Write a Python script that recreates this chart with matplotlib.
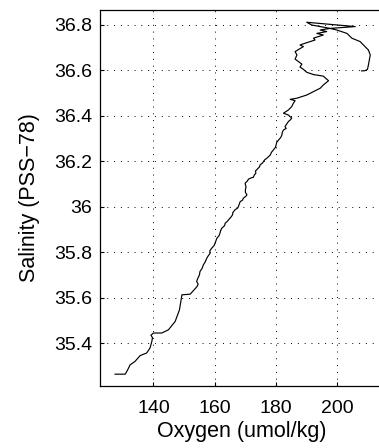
import matplotlib.pyplot as plt

# Perfil de oxígeno disuelto vs salinidad (de fondo a superficie)
oxygen = [127.5, 130.8, 131.5, 132.4, 134.0, 135.7, 137.8, 138.9, 139.5, 139.7,
          139.2, 140.0, 142.7, 144.9, 147.1, 148.5, 149.3, 152.0, 154.2, 154.6,
          154.1, 154.5, 155.0, 155.2, 155.9, 156.3, 156.9, 157.4, 157.9, 158.5,
          158.4, 159.0, 159.8, 160.1, 160.4, 160.7, 161.4, 161.7, 161.9, 162.3,
          163.2, 163.4, 164.1, 164.5, 165.3, 165.8, 165.9, 166.6, 167.5, 167.7,
          168.0, 168.3, 169.1, 169.3, 170.1, 170.5, 170.0, 170.0, 170.2, 170.0,
          169.9, 170.6, 171.0, 172.0, 172.6, 172.9, 173.4, 173.3, 173.9, 174.6,
          174.8, 175.6, 175.9, 176.3, 177.0, 177.6, 178.1, 178.5, 179.1, 179.8,
          180.0, 180.2, 180.8, 181.5, 181.9, 182.0, 182.4, 183.3, 182.9, 184.0,
          184.6, 185.1, 184.0, 182.4, 184.0, 185.1, 185.6, 186.2, 184.6, 186.8,
          190.0, 192.2, 194.4, 195.4, 197.1, 195.4, 192.2, 190.0, 188.9, 187.8,
          188.4, 186.2, 186.8, 186.2, 188.9, 187.8, 189.5, 192.7, 192.2, 195.4,
          193.3, 196.5, 194.4, 197.6, 191.6, 190.0, 205.8, 197.6, 199.8, 203.1,
          204.7, 207.4, 209.0, 210.1, 210.7, 210.4, 210.1, 209.8, 209.0, 207.9]
salinity = [35.264, 35.264, 35.280, 35.305, 35.320, 35.346, 35.357, 35.379, 35.408, 35.425,
            35.435, 35.445, 35.445, 35.459, 35.496, 35.547, 35.613, 35.616, 35.649, 35.660,
            35.672, 35.686, 35.700, 35.716, 35.730, 35.745, 35.758, 35.774, 35.785, 35.796,
            35.807, 35.818, 35.830, 35.840, 35.851, 35.862, 35.873, 35.884, 35.895, 35.906,
            35.917, 35.928, 35.936, 35.943, 35.955, 35.965, 35.975, 35.987, 35.995, 36.001,
            36.012, 36.023, 36.030, 36.038, 36.046, 36.053, 36.064, 36.075, 36.089, 36.097,
            36.104, 36.113, 36.122, 36.128, 36.130, 36.140, 36.148, 36.158, 36.166, 36.176,
            36.185, 36.193, 36.200, 36.207, 36.214, 36.222, 36.228, 36.240, 36.250, 36.262,
            36.272, 36.283, 36.294, 36.305, 36.316, 36.327, 36.338, 36.345, 36.353, 36.375,
            36.382, 36.390, 36.404, 36.412, 36.426, 36.441, 36.455, 36.467, 36.473, 36.478,
            36.492, 36.507, 36.522, 36.536, 36.555, 36.575, 36.582, 36.592, 36.605, 36.615,
            36.628, 36.650, 36.668, 36.683, 36.705, 36.712, 36.720, 36.734, 36.742, 36.756,
            36.763, 36.771, 36.778, 36.785, 36.800, 36.812, 36.793, 36.785, 36.778, 36.763,
            36.742, 36.727, 36.705, 36.690, 36.668, 36.646, 36.624, 36.605, 36.599, 36.598]

xticks = [140, 160, 180, 200]
yticks = [35.4, 35.6, 35.8, 36.0, 36.2, 36.4, 36.6, 36.8]
ylabels = ['35.4', '35.6', '35.8', '36', '36.2', '36.4', '36.6', '36.8']

plt.rcParams['font.family'] = ['Liberation Sans', 'DejaVu Sans']

fig = plt.figure(figsize=(3.79, 4.48), dpi=100)
ax = fig.add_axes([0.2639, 0.1384, 0.7478, 0.8393])

ax.plot(oxygen, salinity, color='black', linewidth=0.85)

ax.set_xlim(122.6, 215)
ax.set_ylim(35.212, 36.866)
ax.set_xticks(xticks)
ax.set_yticks(yticks)
ax.set_yticklabels(ylabels)
ax.tick_params(direction='in', length=3, labelsize=14, colors='black')
ax.tick_params(axis='x', pad=10)
ax.tick_params(axis='y', pad=5.5)
ax.grid(True, color='black', linestyle=(0, (1, 6)), linewidth=0.7)

for s in ax.spines.values():
    s.set_linewidth(0.9)

ax.set_xlabel('Oxygen (umol/kg)', fontsize=15.5, labelpad=3)
ax.set_ylabel('Salinity (PSS\u221278)', fontsize=15.5, labelpad=10)

fig.savefig('out.png', dpi=100)
